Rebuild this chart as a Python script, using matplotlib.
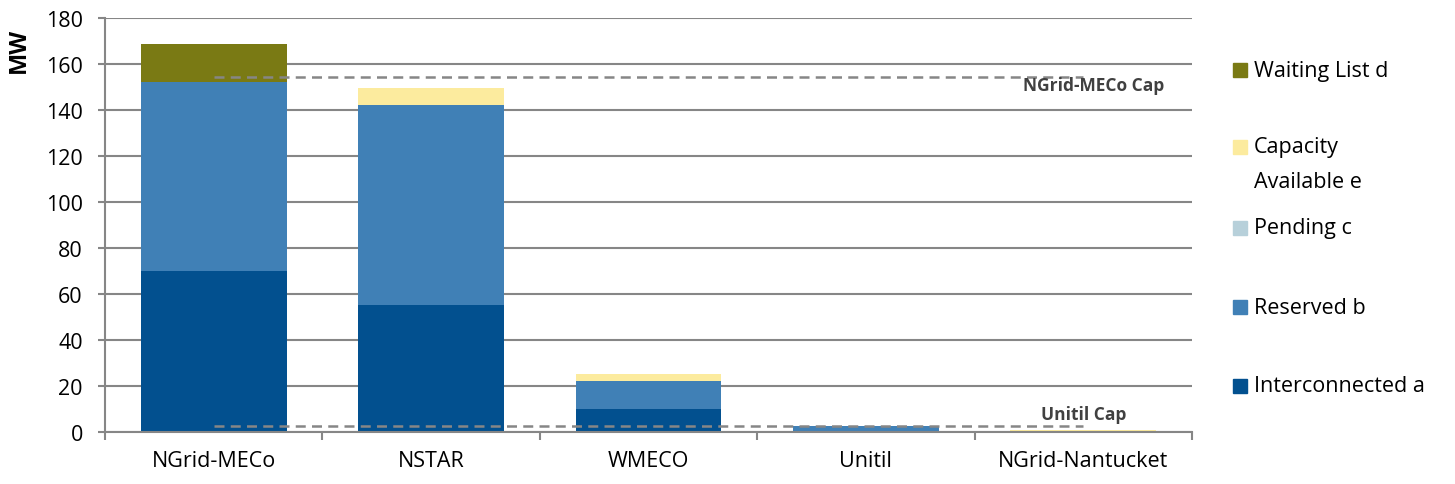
import matplotlib.pyplot as plt
from matplotlib.patches import Rectangle
import numpy as np

plt.rcParams['font.family'] = ['Open Sans', 'DejaVu Sans']

# chart data, MW
utilities = ['NGrid-MECo', 'NSTAR', 'WMECO', 'Unitil', 'NGrid-Nantucket']
interconnected = [70.0, 55.2, 10.0, 0.4, 0.0]
reserved = [82.2, 87.0, 12.2, 2.2, 0.0]
pending = [0.0, 0.0, 0.0, 0.0, 0.0]
capacity_available = [0.0, 7.4, 3.0, 0.0, 0.8]
waiting_list = [16.7, 0.0, 0.0, 0.0, 0.0]
ngrid_meco_cap = [154.3] * 5
unitil_cap = [2.7] * 5

series = [('Interconnected a', interconnected, '#02508f'),
          ('Reserved b', reserved, '#4080b6'),
          ('Pending c', pending, '#b7d0da'),
          ('Capacity Available e', capacity_available, '#fceb9e'),
          ('Waiting List d', waiting_list, '#7a7a14')]

fig = plt.figure(figsize=(14.55, 4.85), dpi=100)
ax = fig.add_axes([0.0722, 0.1072, 0.7470, 0.8536])

x = np.arange(len(utilities))
bottom = np.zeros(len(utilities))
for name, vals, col in series:
    ax.bar(x, vals, 0.67, bottom=bottom, color=col, zorder=3)
    bottom += np.array(vals)

grey = '#868686'
ax.plot(x, ngrid_meco_cap, ls=(0, (4, 2.5)), color=grey, lw=1.8, zorder=4)
ax.plot(x, unitil_cap, ls=(0, (4, 2.5)), color=grey, lw=1.8, zorder=4)
ax.text(4.05, ngrid_meco_cap[0] - 3.4, 'NGrid-MECo Cap', ha='center', va='center',
        fontsize=12.5, fontweight='bold', color='#404040', zorder=5)
ax.text(4.0, unitil_cap[0] + 5.1, 'Unitil Cap', ha='center', va='center',
        fontsize=12.5, fontweight='bold', color='#404040', zorder=5)

ax.set_xlim(-0.5, 4.5)
ax.set_ylim(0, 180)
ax.set_yticks(range(0, 181, 20))
ax.grid(axis='y', color=grey, lw=1.5, zorder=0)
for s in ['top', 'right']:
    ax.spines[s].set_visible(False)
for s in ['left', 'bottom']:
    ax.spines[s].set_color(grey)
    ax.spines[s].set_linewidth(1.5)
    ax.spines[s].set_zorder(5)
ax.set_xticks(np.arange(-0.5, 4.6, 1.0))
ax.set_xticklabels([])
ax.set_xticks(x, minor=True)
ax.set_xticklabels(utilities, minor=True)
ax.tick_params(axis='x', which='major', length=6, width=1.5, color=grey)
ax.tick_params(axis='x', which='minor', length=0, pad=13, labelsize=15.5)
ax.tick_params(axis='y', length=5, width=1.5, color=grey, labelsize=15.5, pad=11)
ax.text(-0.079, 0.923, 'MW', transform=ax.transAxes, rotation=90,
        ha='center', va='center', fontsize=17, fontweight='bold')

# legend, drawn by hand to match the layout
leg_items = [('Waiting List d', '#7a7a14', 71),
             ('Capacity', '#fceb9e', 148),
             ('Pending c', '#b7d0da', 229),
             ('Reserved b', '#4080b6', 308),
             ('Interconnected a', '#02508f', 387)]
W, H = 1455, 485
for label, col, ypix in leg_items:
    fig.patches.append(Rectangle(((1233) / W, (H - ypix - 7) / H), 14 / W, 14 / H,
                                 transform=fig.transFigure, color=col))
    fig.text(1254 / W, (H - ypix) / H, label, fontsize=15.5, va='center', ha='left')
fig.text(1254 / W, (H - 183) / H, 'Available e', fontsize=15.5, va='center', ha='left')

fig.savefig('out.png', dpi=100)
